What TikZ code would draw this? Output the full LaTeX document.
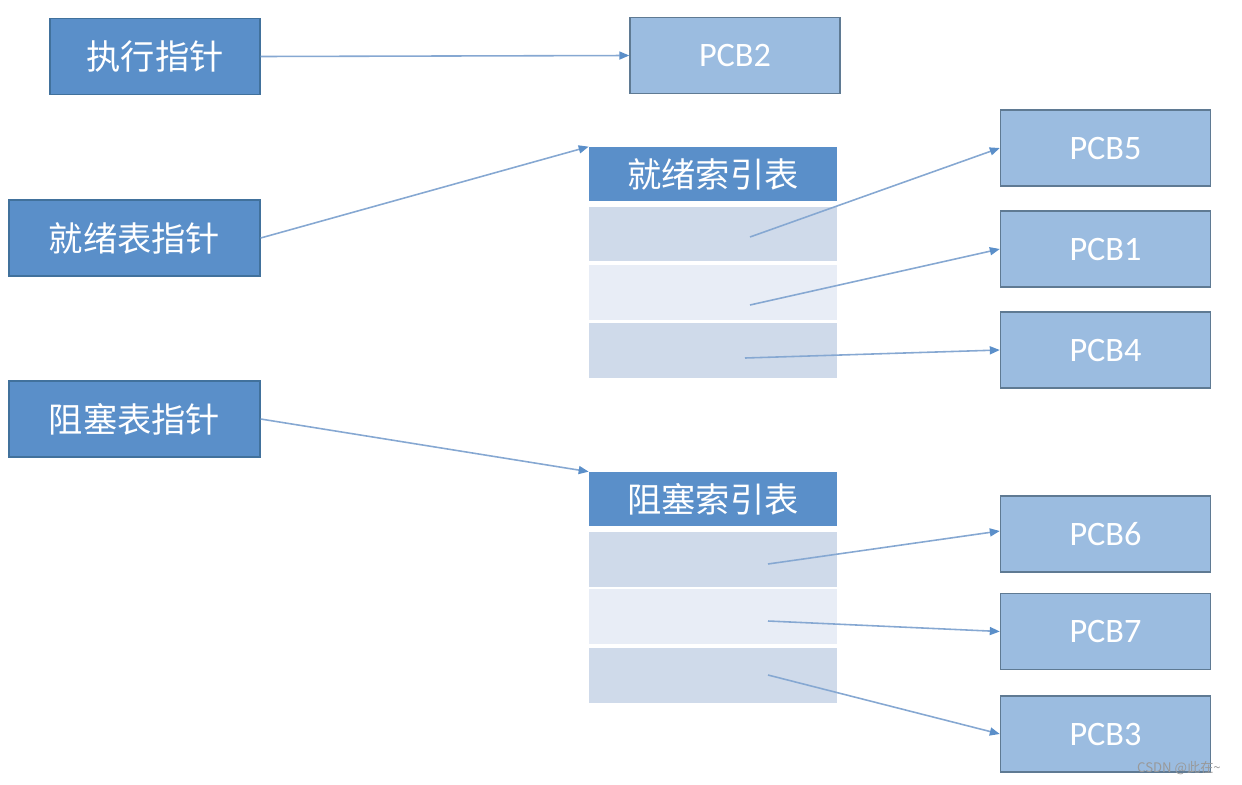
\documentclass[tikz,border=0pt]{standalone}
\usepackage{fontspec}
\setmainfont{Carlito}
\newfontfamily\cjk{Noto Sans CJK SC}
\usetikzlibrary{arrows.meta,positioning}
\definecolor{zhizhen}{HTML}{5A8FC9}
\definecolor{zhizhenrand}{HTML}{41719C}
\definecolor{pcbfarbe}{HTML}{9BBCE0}
\definecolor{pcbrand}{HTML}{5F7A93}
\definecolor{zeiledunkel}{HTML}{CFDAEA}
\definecolor{zeilehell}{HTML}{E8EDF6}
\definecolor{pfeil}{HTML}{86A8D2}
\definecolor{pfeilspitze}{HTML}{5B8FC9}
\tikzstyle{zeiger} = [draw=zhizhenrand, fill=zhizhen, thick, rectangle, text=white, minimum height=1.52cm, font=\cjk\fontsize{19.5}{23}\selectfont]
\tikzstyle{pcb} = [draw=pcbrand, fill=pcbfarbe, thick, rectangle, text=white, minimum width=4.2cm, minimum height=1.52cm, font=\fontsize{19.5}{23}\selectfont]
\tikzstyle{kopf} = [fill=zhizhen, rectangle, text=white, minimum width=4.96cm, minimum height=1.08cm, font=\cjk\fontsize{19.5}{23}\selectfont]
\tikzstyle{zeile} = [rectangle, minimum width=4.96cm, minimum height=1.1cm]
\tikzstyle{verweis} = [draw=pfeil, line width=0.9pt, -{Triangle[length=0.2cm,width=0.16cm,color=pfeilspitze]}]

\begin{document}
\begin{tikzpicture}[x=0.02cm, y=-0.02cm]
					\useasboundingbox (0,0) rectangle (1242,785);
					% Zeiger links
					\node [zeiger, minimum width=4.2cm] (exec) at (155,56.5) {执行指针};
					\node [zeiger, minimum width=5.02cm] (readyp) at (134.5,238) {就绪表指针};
					\node [zeiger, minimum width=5.02cm] (blockp) at (134.5,419) {阻塞表指针};
					% Indextabellen
					\node [kopf] (rhead) at (713,174) {就绪索引表};
					\node [zeile, fill=zeiledunkel] (r1) at (713,234) {};
					\node [zeile, fill=zeilehell] (r2) at (713,292) {};
					\node [zeile, fill=zeiledunkel] (r3) at (713,350.5) {};
					\node [kopf] (bhead) at (713,499) {阻塞索引表};
					\node [zeile, fill=zeiledunkel] (b1) at (713,559) {};
					\node [zeile, fill=zeilehell] (b2) at (713,616.5) {};
					\node [zeile, fill=zeiledunkel] (b3) at (713,675) {};
					% PCBs
					\node [pcb] (pcb2) at (735,55.5) {PCB2};
					\node [pcb] (pcb5) at (1105.5,148) {PCB5};
					\node [pcb] (pcb1) at (1105.5,249) {PCB1};
					\node [pcb] (pcb4) at (1105.5,350) {PCB4};
					\node [pcb] (pcb6) at (1105.5,534) {PCB6};
					\node [pcb] (pcb7) at (1105.5,631.5) {PCB7};
					\node [pcb] (pcb3) at (1105.5,734) {PCB3};
					% Startpunkte in den Zeilen
					\coordinate (r1s) at (750,237);
					\coordinate (r2s) at (750,305);
					\coordinate (r3s) at (745,358);
					\coordinate (b1s) at (768,564);
					\coordinate (b2s) at (768,621);
					\coordinate (b3s) at (768,675);
					% Pfeile
					\draw [verweis] (exec.east) -- (pcb2.west);
					\draw [verweis] (readyp.east) -- (rhead.north west);
					\draw [verweis] (blockp.east) -- (bhead.north west);
					\draw [verweis] (r1s) -- (pcb5.west);
					\draw [verweis] (r2s) -- (pcb1.west);
					\draw [verweis] (r3s) -- (pcb4.west);
					\draw [verweis] (b1s) -- ([yshift=0.06cm]pcb6.west);
					\draw [verweis] (b2s) -- (pcb7.west);
					\draw [verweis] (b3s) -- (pcb3.west);
					\node [anchor=east, text=gray!80, font=\cjk\fontsize{7.5}{9}\selectfont] (marke) at (1227,768) {CSDN @此在\textasciitilde};
					\end{tikzpicture}
\end{document}
